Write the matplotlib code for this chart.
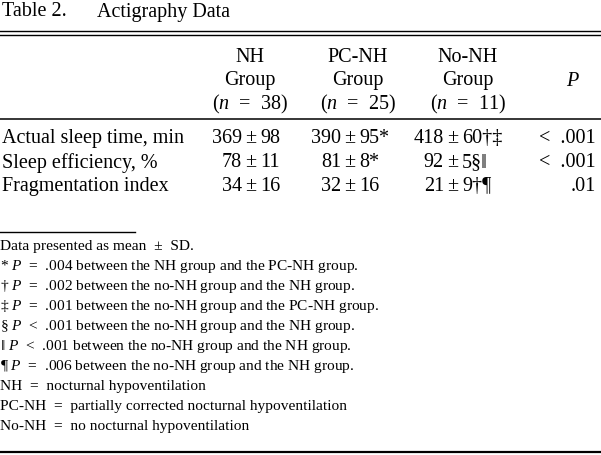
import matplotlib
matplotlib.use("Agg")
import matplotlib.pyplot as plt

plt.rcParams['font.family'] = ['Liberation Serif', 'DejaVu Serif']
plt.rcParams['mathtext.fontset'] = 'custom'
plt.rcParams['mathtext.rm'] = 'Liberation Serif'
plt.rcParams['mathtext.it'] = 'Liberation Serif:italic'

# table content
title_num = "Table 2."
title_text = "Actigraphy Data"
groups = ["NH", "PC-NH", "No-NH"]
group_n = [38, 25, 11]
rows = ["Actual sleep time, min", "Sleep efficiency, %", "Fragmentation index"]
means = [[369, 390, 418], [78, 81, 92], [34, 32, 21]]
sds = [[98, 95, 60], [11, 8, 5], [16, 16, 9]]
marks = [["", "*", "†‡"], ["", "*", "§‖"], ["", "", "†¶"]]
p_values = ["<  .001", "<  .001", ".01"]
footnotes = [
    "Data presented as mean  ±  SD.",
    "* $P$  =  .004 between the NH group and the PC-NH group.",
    "† $P$  =  .002 between the no-NH group and the NH group.",
    "‡ $P$  =  .001 between the no-NH group and the PC-NH group.",
    "§ $P$  <  .001 between the no-NH group and the NH group.",
    "‖ $P$  <  .001 between the no-NH group and the NH group.",
    "¶ $P$  =  .006 between the no-NH group and the NH group.",
    "NH  =  nocturnal hypoventilation",
    "PC-NH  =  partially corrected nocturnal hypoventilation",
    "No-NH  =  no nocturnal hypoventilation",
]

fig = plt.figure(figsize=(6.01, 4.56), dpi=100)
ax = fig.add_axes([0, 0, 1, 1])
ax.set_xlim(0, 601)
ax.set_ylim(456, 0)
ax.axis('off')

fs = 14.5
fs_note = 11.1

# title
ax.text(2, 12, title_num, fontsize=fs, va='center', ha='left')
ax.text(97, 12, title_text, fontsize=fs, va='center', ha='left')

# rules
ax.plot([0, 601], [31.5, 31.5], color='black', lw=1.0)
ax.plot([0, 601], [35.5, 35.5], color='black', lw=1.0)
ax.plot([0, 601], [120, 120], color='black', lw=1.1)
ax.plot([0, 135], [233, 233], color='black', lw=1.0)
ax.plot([0, 601], [453, 453], color='black', lw=1.6)

# header
col_centers = [250, 358, 468]
pm_x = [251, 350, 453]
for i, g in enumerate(groups):
    ax.text(col_centers[i], 58, g, fontsize=fs, ha='center', va='center')
    ax.text(col_centers[i], 81, "Group", fontsize=fs, ha='center', va='center')
    ax.text(col_centers[i], 104, "($n$  =  %d)" % group_n[i], fontsize=fs,
            ha='center', va='center')
ax.text(572, 81, "P", fontsize=fs, ha='center', va='center', style='italic')

# body
row_y = [139, 163, 187]
for r, label in enumerate(rows):
    y = row_y[r]
    ax.text(2, y, label, fontsize=fs, ha='left', va='center')
    for c in range(3):
        ax.text(pm_x[c] - 9, y, str(means[r][c]), fontsize=fs, ha='right', va='center')
        ax.text(pm_x[c], y, "±", fontsize=fs, ha='center', va='center')
        ax.text(pm_x[c] + 9, y, str(sds[r][c]) + marks[r][c], fontsize=fs,
                ha='left', va='center')
    ax.text(596, y, p_values[r], fontsize=fs, ha='right', va='center')

# footnotes
for k, note in enumerate(footnotes):
    ax.text(0, 247 + 20 * k, note, fontsize=fs_note, ha='left', va='center')

fig.savefig("out.png", dpi=100)
